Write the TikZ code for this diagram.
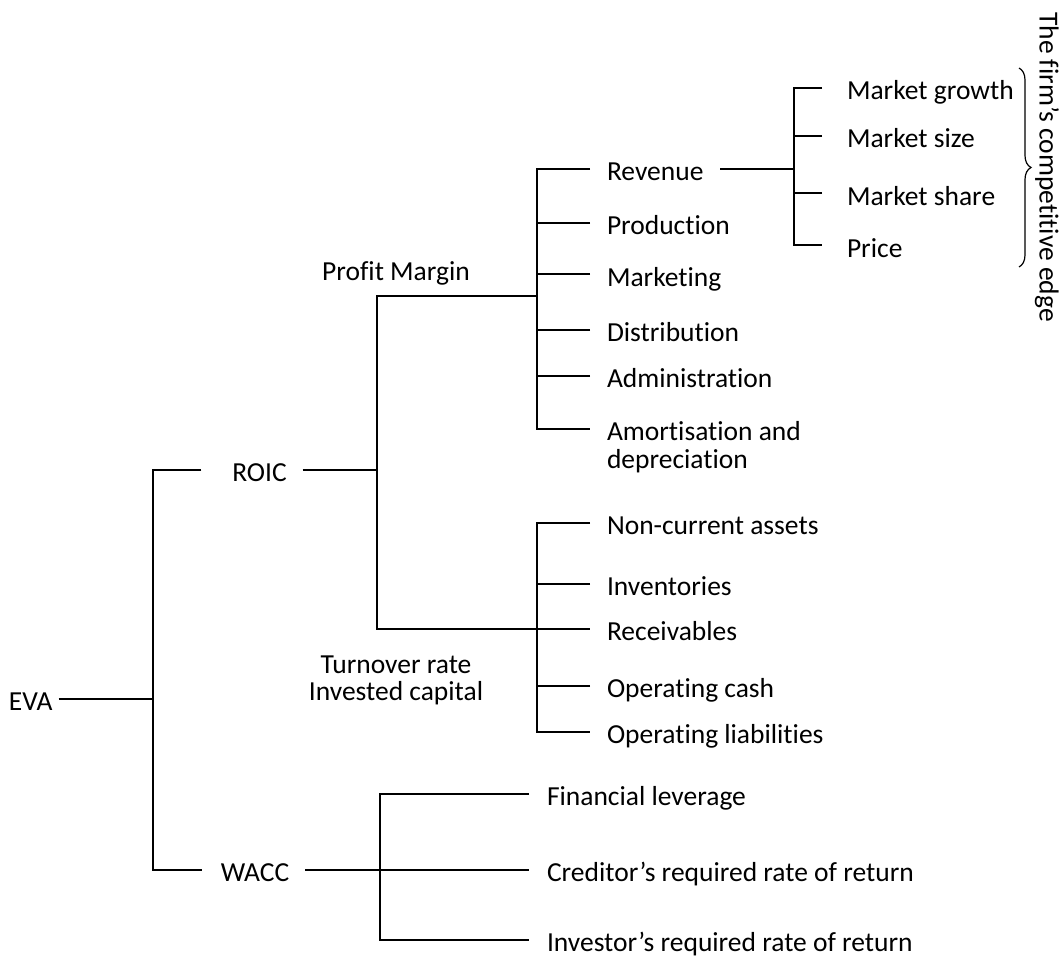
\documentclass[tikz,border=0pt]{standalone}
\usepackage{fontspec}
\setmainfont{Carlito}[Ligatures={TeX,NoCommon}]
\usetikzlibrary{decorations.pathreplacing}

\begin{document}
\begin{tikzpicture}[x=0.5pt, y=-0.5pt, line width=1pt,
		every node/.style={inner sep=0pt, font=\fontsize{13.75}{13.75}\selectfont},
		item/.style={text height=13pt, text depth=1.1pt},
		leaf/.style={item, anchor=west, outer xsep=8.5pt}]
	\useasboundingbox (0,0) rectangle (1061,957);
	\node [item, anchor=west] (eva) at (8,699) {EVA};
	\node [item] (roic) at (259.5,470) {ROIC};
	\node [item] (wacc) at (255,870) {WACC};
	\node [item] (margin) at (396,269) {Profit Margin};
	\node [align=center] (turnover) at (396,680.4) {Turnover rate\\Invested capital};
		\node [leaf] (revenue) at (590,169) {Revenue};
		\node [leaf] (production) at (590,223) {Production};
		\node [leaf] (marketing) at (590,274.5) {Marketing};
		\node [leaf] (distribution) at (590,330) {Distribution};
		\node [leaf] (admin) at (590,376) {Administration};
		\node [anchor=west, outer xsep=8.5pt, align=left] (amort) at (590,447) {Amortisation and\\depreciation};
			\node [leaf, outer xsep=12.5pt] (growth) at (822,88) {Market growth};
			\node [leaf, outer xsep=12.5pt] (size) at (822,136) {Market size};
			\node [leaf, outer xsep=12.5pt] (share) at (822,193.5) {Market share};
			\node [leaf, outer xsep=12.5pt] (price) at (822,245.5) {Price};
		\node [leaf] (noncurrent) at (590,523) {Non-current assets};
		\node [leaf] (inventories) at (590,584) {Inventories};
		\node [leaf] (receivables) at (590,629) {Receivables};
		\node [leaf] (opcash) at (590,685.5) {Operating cash};
		\node [leaf] (opliab) at (590,731.5) {Operating liabilities};
		\node [leaf, outer xsep=9pt] (leverage) at (529,794) {Financial leverage};
		\node [leaf, outer xsep=9pt] (creditor) at (529,870) {Creditor's required rate of return};
		\node [leaf, outer xsep=9pt] (investor) at (529,939.5) {Investor's required rate of return};
	\node [rotate=-90] (edge) at (1047,167) {The firm's competitive edge};

	\coordinate (ebar) at (153,699);
	\coordinate (ptrunk) at (377,470);
	\coordinate (pm) at (537,296);
	\coordinate (tv) at (537,629);
	\coordinate (mbar) at (794,169);
	\coordinate (wbar) at (380,870);

	\draw ([xshift=2.5pt]eva.east) -- (ebar);
	\draw ([xshift=-15pt]roic.west) -| (ebar) |- ([xshift=-9pt]wacc.west);
	\draw ([xshift=7.5pt]roic.east) -- (ptrunk);
	\draw (pm) -| (ptrunk) |- (receivables.west);
	\draw (revenue.west) -| (pm) |- ([yshift=9pt]amort.west);
	\foreach \n in {production,marketing,distribution,admin}
		\draw (\n.west) -- (\n.west -| pm);
	\draw (revenue.east) -- (mbar);
	\draw (growth.west) -| (mbar) |- (price.west);
	\foreach \n in {size,share}
		\draw (\n.west) -- (\n.west -| mbar);
	\draw (noncurrent.west) -| (tv) |- (opliab.west);
	\foreach \n in {inventories,opcash}
		\draw (\n.west) -- (\n.west -| tv);
	\draw ([xshift=7.5pt]wacc.east) -- (creditor.west);
	\draw (leverage.west) -| (wbar) |- (investor.west);
	\draw [line width=0.6pt, decorate, decoration={brace, amplitude=6pt}] (1019,68) -- (1019,267);
\end{tikzpicture}
\end{document}
